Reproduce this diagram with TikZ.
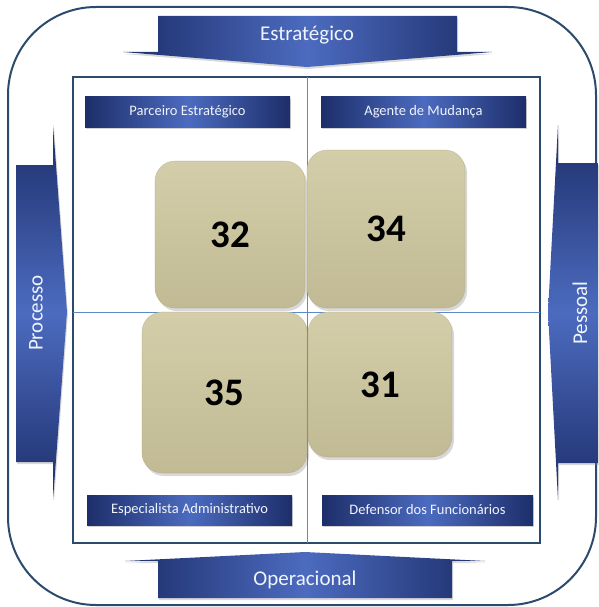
\documentclass[tikz,border=0pt]{standalone}
\usepackage{fontspec}
\setmainfont{Carlito}
\usetikzlibrary{shadows}
\definecolor{frame}{HTML}{2C4A6B}
\definecolor{navy}{HTML}{1D2E6A}
\definecolor{midblue}{HTML}{4C6BBF}
\definecolor{beigeT}{HTML}{D3CEA9}
\definecolor{beigeB}{HTML}{C1BA94}
\definecolor{gridline}{HTML}{5B8AC6}
\definecolor{txtwhite}{HTML}{F0F4FB}
\begin{document}
\begin{tikzpicture}[x=1pt,y=-1pt,
  hband/.style={left color=navy, right color=navy, middle color=midblue},
  vband/.style={top color=navy, bottom color=navy, middle color=midblue},
  bigtxt/.style={text=txtwhite, font=\fontsize{21}{24}\selectfont, inner sep=0pt},
  smallbanner/.style={hband, minimum width=205pt, minimum height=30pt, inner sep=0pt,
     text=txtwhite, font=\fontsize{14.5}{16}\selectfont,
     drop shadow={shadow xshift=1pt, shadow yshift=-2pt, opacity=0.35}},
  numbox/.style={rounded corners=20pt, top color=beigeT, bottom color=beigeB,
     draw=beigeB!85!black, draw opacity=0.35, line width=0.6pt,
     font=\fontsize{39}{42}\selectfont\bfseries, text=black, inner sep=0pt,
     drop shadow={shadow xshift=2pt, shadow yshift=-3pt, opacity=0.3}},
  frameline/.style={draw=frame, line width=2pt},
  midline/.style={draw=gridline, line width=0.8pt},
  arrowshadow/.style={drop shadow={shadow xshift=1pt, shadow yshift=-2pt, opacity=0.3}}
]
\useasboundingbox (0,0) rectangle (598,607);

% outer rounded frame
\draw[frameline, rounded corners=88pt] (8,7) rectangle (596,605);

% top arrow
\shade[hband, arrowshadow]
  (158,16) -- (457,16) -- (457,52) -- (492,52) -- (307,67) -- (123,52) -- (158,52) -- cycle;
% bottom arrow
\shade[hband, arrowshadow]
  (305,552) -- (485,561) -- (452,561) -- (452,598) -- (158,598) -- (158,561) -- (125,561) -- cycle;
% left arrow
\shade[vband, arrowshadow]
  (16,165) -- (53,165) -- (53,125) -- (67,312) -- (53,500) -- (53,462) -- (16,462) -- cycle;
% right arrow
\shade[vband, arrowshadow]
  (598,163) -- (558,163) -- (558,125) -- (548,312) -- (558,500) -- (558,463) -- (598,463) -- cycle;

% inner frame and midlines
\draw[frameline, fill=white] (73,77) rectangle (540,543);
\draw[midline] (307,77) -- (307,543);
\draw[midline] (73,312) -- (540,312);

% arrow labels
\node[bigtxt] (est) at (307,35) {Estratégico};
\node[bigtxt] (ope) at (305,580) {Operacional};
\node[bigtxt, rotate=90] (pro) at (36,313) {Processo};
\node[bigtxt, rotate=90] (pes) at (580,313) {Pessoal};

% quadrant banners
\node[smallbanner] (parc) at (187.5,112) {Parceiro Estratégico};
\node[smallbanner] (agen) at (423.5,112) {Agente de Mudança};
\node[smallbanner] (espe) at (189.5,510) {Especialista Administrativo};
\node[smallbanner, minimum width=211pt] (defe) at (427.5,510) {Defensor dos Funcionários};

% numbered boxes
\node[numbox, minimum width=150pt, minimum height=147pt] (b32) at (230,234.5) {32};
\node[numbox, minimum width=158pt, minimum height=158pt] (b34) at (386,229) {34};
\node[numbox, minimum width=165pt, minimum height=161pt] (b35) at (224.5,392.5) {35};
\node[numbox, minimum width=144pt, minimum height=145pt] (b31) at (380,384.5) {31};
\end{tikzpicture}
\end{document}
